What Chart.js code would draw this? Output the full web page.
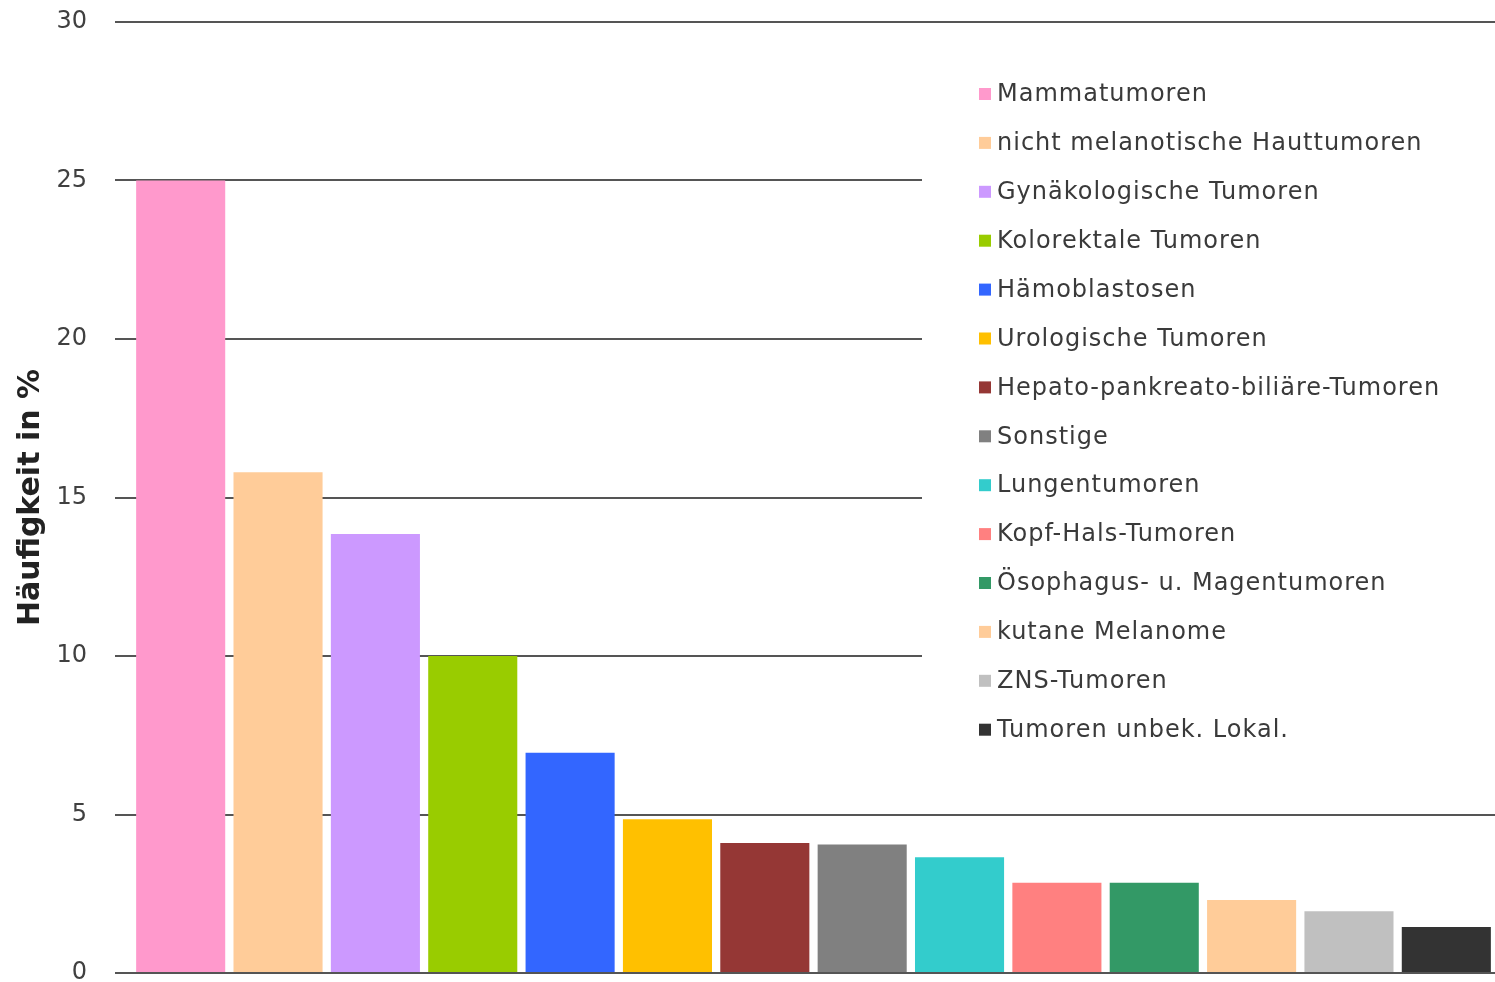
<!DOCTYPE html>
<html>
<head>
<meta charset="utf-8">
<script src="https://cdn.jsdelivr.net/npm/chart.js@4"></script>
<style>
  body { margin: 0; background: #fff; overflow: hidden; }
  canvas { display: block; }
</style>
</head>
<body>
<canvas id="chart" width="1495" height="982"></canvas>
<script>
// Kategorien (Reihenfolge wie im Diagramm)
const categories = [
    'Mammatumoren',
    'nicht melanotische Hauttumoren',
    'Gynäkologische Tumoren',
    'Kolorektale Tumoren',
    'Hämoblastosen',
    'Urologische Tumoren',
    'Hepato-pankreato-biliäre-Tumoren',
    'Sonstige',
    'Lungentumoren',
    'Kopf-Hals-Tumoren',
    'Ösophagus- u. Magentumoren',
    'kutane Melanome',
    'ZNS-Tumoren',
    'Tumoren unbek. Lokal.'
];

// Häufigkeit in %
const haeufigkeit = [25.0, 15.8, 13.85, 10.0, 6.95, 4.85, 4.1, 4.05, 3.65, 2.85, 2.85, 2.3, 1.95, 1.45];

const barColors = [
    '#FF99CC', '#FFCC99', '#CC99FF', '#99CC00', '#3366FF', '#FFC000', '#953735',
    '#808080', '#33CCCC', '#FF8080', '#339966', '#FFCC99', '#C0C0C0', '#333333'
];

const yTicks = [0, 5, 10, 15, 20, 25, 30];

const FONT = '"DejaVu Sans", Verdana, sans-serif';

// Legende mit weißem Hintergrund innerhalb der Zeichenfläche
const legendBox = {
    id: 'legendBox',
    afterDatasetsDraw(chart) {
        const ctx = chart.ctx;
        const area = chart.chartArea;
        const left = area.left + 790;
        const top = area.top + 18;
        ctx.save();
        ctx.fillStyle = '#ffffff';
        ctx.fillRect(left, top, area.right - left + 5, 750);
        ctx.font = '24px ' + FONT;
        ctx.letterSpacing = '1px';
        ctx.textBaseline = 'middle';
        chart.data.labels.forEach((label, i) => {
            const y = area.top + 72 + i * 48.9;
            ctx.fillStyle = chart.data.datasets[0].backgroundColor[i];
            ctx.fillRect(left + 57, y - 6, 12, 12);
            ctx.fillStyle = '#3a3a3a';
            ctx.fillText(label, left + 75, y + 1);
        });
        ctx.restore();
    }
};

const ctx = document.getElementById('chart').getContext('2d');
new Chart(ctx, {
    type: 'bar',
    data: {
        labels: categories,
        datasets: [{
            label: 'Häufigkeit in %',
            data: haeufigkeit,
            backgroundColor: barColors,
            borderWidth: 0,
            categoryPercentage: 1.0,
            barPercentage: 0.915
        }]
    },
    options: {
        responsive: false,
        animation: false,
        layout: { padding: { top: 22, right: 0, bottom: 9, left: 13 } },
        plugins: {
            legend: { display: false },
            tooltip: { enabled: false }
        },
        scales: {
            x: { display: false },
            y: {
                min: 0,
                max: 30,
                afterBuildTicks: axis => { axis.ticks = yTicks.map(v => ({ value: v })); },
                afterFit: axis => {
                    axis.width = 119;
                    axis.paddingTop = 0;
                    axis.paddingBottom = 0;
                },
                ticks: {
                    color: '#404040',
                    font: { family: FONT, size: 24 },
                    padding: 28
                },
                grid: {
                    color: '#555555',
                    lineWidth: 2,
                    tickLength: 17
                },
                border: { display: false },
                title: {
                    display: true,
                    text: 'Häufigkeit in %',
                    color: '#222222',
                    font: { family: FONT, size: 30, weight: 'bold' },
                    padding: { top: 0, bottom: 9 }
                }
            }
        }
    },
    plugins: [legendBox]
});
</script>
</body>
</html>
